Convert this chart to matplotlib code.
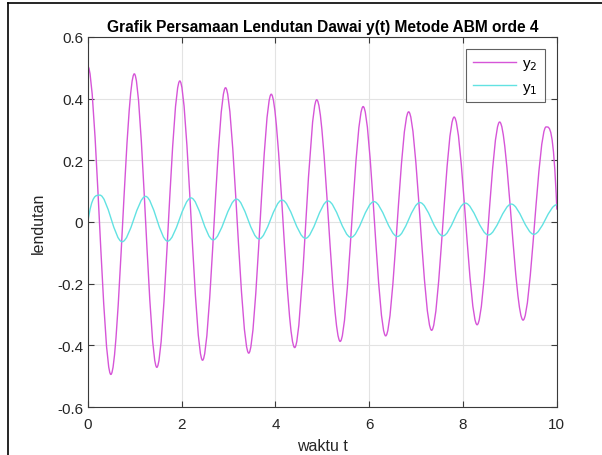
import matplotlib
matplotlib.use("Agg")
import matplotlib.pyplot as plt
from matplotlib.path import Path
from matplotlib.patches import PathPatch
from matplotlib.lines import Line2D
import numpy as np

plt.rcParams['font.family'] = ['Liberation Sans', 'DejaVu Sans']

# turning points (time, value); first/last are the ends
y2_t = [0.0, 0.49, 0.99, 1.47, 1.96, 2.445, 2.935, 3.43, 3.91, 4.41, 4.88,
        5.38, 5.87, 6.35, 6.84, 7.33, 7.81, 8.30, 8.78, 9.28, 9.77, 10.0]
y2_v = [0.504, -0.494, 0.480, -0.471, 0.457, -0.448, 0.435, -0.425, 0.414, -0.407, 0.396,
        -0.387, 0.374, -0.369, 0.357, -0.351, 0.340, -0.333, 0.324, -0.318, 0.308, 0.04]

y1_t = [0.0, 0.256, 0.73, 1.23, 1.70, 2.20, 2.67, 3.17, 3.65, 4.14, 4.64,
        5.12, 5.61, 6.10, 6.60, 7.08, 7.57, 8.05, 8.54, 9.03, 9.51, 10.0]
y1_v = [0.0, 0.087, -0.064, 0.083, -0.062, 0.078, -0.058, 0.074, -0.055, 0.071, -0.053,
        0.068, -0.050, 0.066, -0.047, 0.063, -0.045, 0.061, -0.042, 0.058, -0.040, 0.056]

xticks = [0, 2, 4, 6, 8, 10]
yticks = [-0.6, -0.4, -0.2, 0, 0.2, 0.4, 0.6]


def wave_path(ts, vs, start_extreme, end_extreme):
    # cubic bezier pieces through the turning points, flat at each extreme
    verts = [(ts[0], vs[0])]
    codes = [Path.MOVETO]
    n = len(ts)
    for i in range(n - 1):
        t0, v0, t1, v1 = ts[i], vs[i], ts[i + 1], vs[i + 1]
        dt = t1 - t0
        s0 = 0.0
        s1 = 0.0
        if i == 0 and not start_extreme:
            s0 = (v1 - v0) * np.pi / 2 * 2 / 3
        if i == n - 2 and not end_extreme:
            s1 = (v1 - v0) * np.pi / 2 * 2 / 3
        verts += [(t0 + dt / 3, v0 + s0), (t1 - dt / 3, v1 - s1), (t1, v1)]
        codes += [Path.CURVE4] * 3
    return Path(verts, codes)


fig = plt.figure(figsize=(6.02, 4.56), dpi=100)
ax = fig.add_axes([0.146, 0.105, 0.779, 0.812])

c2 = '#d655d8'
c1 = '#62e2e2'
ax.add_patch(PathPatch(wave_path(y2_t, y2_v, True, False), fill=False,
                       edgecolor=c2, lw=1.0))
ax.add_patch(PathPatch(wave_path(y1_t, y1_v, False, True), fill=False,
                       edgecolor=c1, lw=1.0))

ax.set_xlim(0, 10)
ax.set_ylim(-0.6, 0.6)
ax.set_xticks(xticks)
ax.set_yticks(yticks)
ax.set_xticklabels([str(x) for x in xticks])
ax.set_yticklabels(['-0.6', '-0.4', '-0.2', '0', '0.2', '0.4', '0.6'])
ax.grid(True, color='#e3e3e3', lw=0.8)
ax.set_axisbelow(True)
for sp in ax.spines.values():
    sp.set_color('#3a3a3a')
    sp.set_linewidth(0.8)
ax.tick_params(direction='in', length=4, color='#3a3a3a', labelcolor='#262626',
               labelsize=11, top=True, right=True, labeltop=False, labelright=False)
ax.tick_params(axis='x', pad=7)

ax.set_title('Grafik Persamaan Lendutan Dawai y(t) Metode ABM orde 4',
             fontsize=11.2, fontweight='bold', pad=4)
ax.set_xlabel('waktu t', fontsize=11.5, color='#262626', labelpad=5)
ax.set_ylabel('lendutan', fontsize=11.5, color='#262626', labelpad=8)

handles = [Line2D([], [], color=c2, lw=1.0), Line2D([], [], color=c1, lw=1.0)]
leg = ax.legend(handles, ['y$_2$', 'y$_1$'], loc='upper right', fontsize=11,
                frameon=True, fancybox=False, edgecolor='#3a3a3a',
                borderaxespad=0.8, handlelength=2.8, handletextpad=0.4,
                borderpad=0.45, labelspacing=0.5)
leg.get_frame().set_linewidth(0.8)

# screenshot frame edges
fig.add_artist(Line2D([8 / 602, 1.0], [1 - 4 / 456, 1 - 4 / 456], color='black', lw=1.2))
fig.add_artist(Line2D([8 / 602, 8 / 602], [0.0, 1 - 4 / 456], color='black', lw=1.2))

fig.savefig('out.png', dpi=100)
